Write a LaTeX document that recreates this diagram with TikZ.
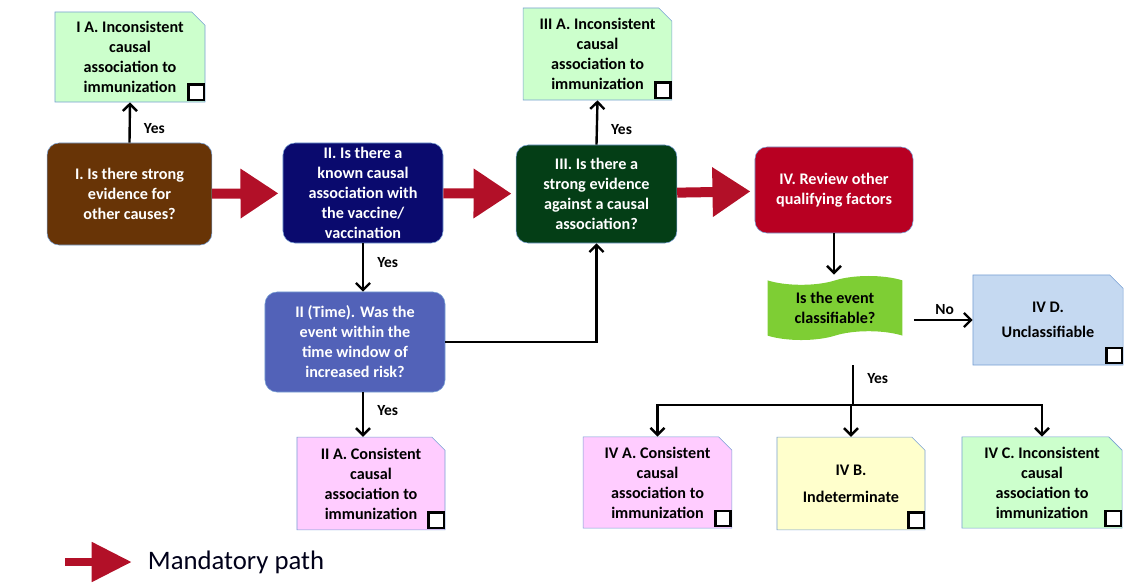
\documentclass[tikz,border=0pt]{standalone}
\usepackage{fontspec}
\setmainfont{Carlito}
\usetikzlibrary{arrows.meta,shapes.misc,shapes.symbols}
\definecolor{brownq}{RGB}{104,52,6}
\definecolor{navyq}{RGB}{10,10,110}
\definecolor{greenq}{RGB}{4,62,22}
\definecolor{redq}{RGB}{184,0,34}
\definecolor{slateq}{RGB}{82,98,184}
\definecolor{mandred}{RGB}{178,16,40}
\definecolor{limeq}{RGB}{126,206,52}
\definecolor{notegreen}{RGB}{204,255,204}
\definecolor{notepink}{RGB}{255,204,255}
\definecolor{noteyellow}{RGB}{255,255,204}
\definecolor{noteblue}{RGB}{197,217,241}
\definecolor{notebd}{RGB}{120,160,212}

\begin{document}
\begin{tikzpicture}[x=0.025cm,y=-0.025cm,
  every node/.style={font=\fontsize{11.5}{14.2}\selectfont\bfseries,align=center},
  qbox/.style={rectangle,rounded corners=0.3cm,draw=notebd,thin,text=white,inner sep=1pt},
  note/.style={chamfered rectangle,chamfered rectangle corners=north east,
    chamfered rectangle xsep=0.22cm,draw=notebd,thin,inner sep=1pt},
  arr/.style={line width=1.7pt,-{Straight Barb[length=5pt,width=10pt]}},
  mand/.style={draw=mandred,line width=0.25cm,-{Triangle[length=0.95cm,width=1.18cm]}},
  tick/.style={fill=white,draw=black,line width=1.7pt},
  yes/.style={font=\fontsize{11}{12}\selectfont\bfseries}]
\useasboundingbox (0,0) rectangle (1144,587);

% question boxes
\node[qbox,fill=brownq,minimum width=4.12cm,minimum height=2.55cm] (i) at (129.5,194)
  {I. Is there strong\\evidence for\\other causes?};
\node[qbox,fill=navyq,minimum width=4cm,minimum height=2.5cm] (ii) at (363,193)
  {II. Is there a\\known causal\\association with\\the vaccine/\\vaccination};
\node[qbox,fill=greenq,minimum width=4.02cm,minimum height=2.45cm] (iii) at (596.5,194)
  {III. Is there a\\strong evidence\\against a causal\\association?};
\node[qbox,fill=redq,minimum width=3.95cm,minimum height=2.15cm] (iv) at (834,190)
  {IV. Review other\\qualifying factors};
\node[qbox,fill=slateq,minimum width=4.5cm,minimum height=2.5cm] (time) at (355,342)
  {II (Time). Was the\\event within the\\time window of\\increased risk?};
\node[tape,fill=limeq,tape bend top=in and out,tape bend bottom=in and out,
  tape bend height=0.22cm,minimum width=3.37cm,minimum height=1.6cm,inner sep=1pt] (cls) at (835,308)
  {Is the event\\classifiable?};

% outcome notes
\node[note,fill=notegreen,minimum width=3.75cm,minimum height=2.25cm] (ia) at (130,57)
  {I A. Inconsistent\\causal\\association to\\immunization};
\node[note,fill=notegreen,minimum width=3.72cm,minimum height=2.3cm] (iiia) at (597.5,54)
  {III A. Inconsistent\\causal\\association to\\immunization};
\node[note,fill=notepink,minimum width=3.7cm,minimum height=2.32cm] (iia) at (371,483.5)
  {II A. Consistent\\causal\\association to\\immunization};
\node[note,fill=noteblue,minimum width=3.75cm,minimum height=2.25cm] (ivd) at (1048,320)
  {IV D.\\[4pt]Unclassifiable};
\node[note,fill=notepink,minimum width=3.72cm,minimum height=2.28cm] (iva) at (657.5,482.5)
  {IV A. Consistent\\causal\\association to\\immunization};
\node[note,fill=noteyellow,minimum width=3.7cm,minimum height=2.32cm] (ivb) at (851,483.5)
  {\\[-6pt]IV B.\\[5pt]Indeterminate};
\node[note,fill=notegreen,minimum width=4cm,minimum height=2.28cm] (ivc) at (1042,482.5)
  {IV C. Inconsistent\\causal\\association to\\immunization};
\foreach \n in {ia,iiia,iia,ivd,iva,ivb,ivc}
  \draw[tick] ([shift={(-0.42cm,0.06cm)}]\n.south east) rectangle ++(0.38cm,0.38cm);

% mandatory path
\draw[mand,shorten >=3pt] (i) -- (ii);
\draw[mand,shorten >=3pt] (ii) -- (iii);
\draw[mand,shorten >=3pt] (iii) -- (iv);

% yes / no branches
\draw[arr] (i.north) -- (ia.south) node[yes,pos=0.35,right=6pt]{Yes};
\draw[arr] (iii.north) -- (iiia.south) node[yes,pos=0.35,right=6pt]{Yes};
\draw[arr] (ii.south) -- (ii.south |- time.north) node[yes,pos=0.4,right=6pt]{Yes};
\draw[arr] (time.south -| ii.south) -- (ii.south |- iia.north) node[yes,pos=0.4,right=6pt]{Yes};
\draw[arr] (time.east) -| (iii.south);
\draw[arr,shorten >=4pt] (iv.south) -- (iv.south |- cls.north);
\draw[arr,shorten <=8pt] (cls.east |- ivd.west) -- (ivd.west) node[yes,pos=0.6,above]{No};
\coordinate (clsout) at (853,365);
\coordinate (fork) at (853,405);
\draw[line width=1.7pt] (clsout) -- (fork) node[yes,pos=0.35,right=6pt]{Yes};
\draw[arr] (fork) -| (iva.north);
\draw[arr] (fork) -| (ivb.north);
\draw[arr] (fork) -| (ivc.north);

% legend
\coordinate (lega) at (65,562);
\node[anchor=west,font=\fontsize{19}{22}\selectfont,text=black!90!blue] (leg) at (143,562) {Mandatory path};
\draw[mand,-{Triangle[length=1cm,width=0.95cm]},line width=0.2cm,shorten >=8pt] (lega) -- (leg.west);
\end{tikzpicture}
\end{document}
